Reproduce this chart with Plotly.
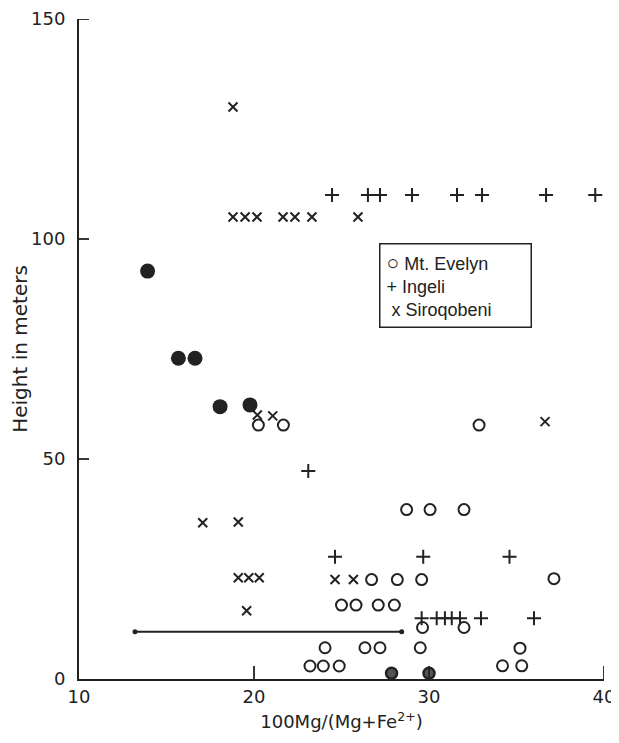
import plotly.graph_objects as go

# Mt. Evelyn (open circles)
evelyn_x = [20.25, 21.68, 32.86, 28.72, 30.06, 32.0, 26.72, 28.19, 29.58, 37.14,
            25.0, 25.83, 27.1, 28.02, 29.63, 32.0, 24.06, 26.34, 27.2, 29.5, 35.2,
            23.2, 23.96, 24.87, 34.2, 35.3]
evelyn_h = [57.7, 57.7, 57.7, 38.5, 38.5, 38.5, 22.6, 22.6, 22.6, 22.8,
            16.8, 16.8, 16.8, 16.8, 11.7, 11.7, 7.1, 7.1, 7.1, 7.1, 7.0,
            2.95, 2.95, 2.95, 3.0, 3.0]
# Mt. Evelyn points sitting on the axis (dark-filled circles)
evelyn_axis_x = [27.86, 30.0]
evelyn_axis_h = [1.3, 1.3]

# Ingeli (+)
ingeli_x = [24.46, 26.51, 27.2, 29.03, 31.6, 33.03, 36.69, 39.5,
            23.1, 24.63, 29.67, 34.6,
            29.58, 30.44, 30.91, 31.3, 31.77, 32.97, 36.0]
ingeli_h = [110, 110, 110, 110, 110, 110, 110, 110,
            47.3, 27.8, 27.8, 27.8,
            13.8, 13.8, 13.8, 13.8, 13.8, 13.8, 13.8]

# Siroqobeni (x)
siro_x = [18.8, 18.8, 19.49, 20.17, 21.66, 22.34, 23.31, 25.94,
          20.19, 21.07, 36.63, 17.07, 19.1, 19.1, 19.7, 20.3,
          24.63, 25.68, 19.58]
siro_h = [130, 105, 105, 105, 105, 105, 105, 105,
          60, 59.8, 58.5, 35.5, 35.7, 23, 23, 23,
          22.6, 22.6, 15.5]

# Unlabelled filled circles
filled_x = [13.92, 15.68, 16.63, 18.06, 19.77]
filled_h = [92.7, 72.9, 72.9, 61.9, 62.3]

# Horizontal range bar
bar_x = [13.2, 28.44]
bar_h = [10.75, 10.75]

x_ticks = [10, 20, 30, 40]
y_ticks = [0, 50, 100, 150]

ink = "#222222"
fig = go.Figure()
fig.add_trace(go.Scatter(x=bar_x, y=bar_h, mode="lines+markers",
                         line=dict(color=ink, width=2),
                         marker=dict(size=5, color=ink), showlegend=False))
fig.add_trace(go.Scatter(x=filled_x, y=filled_h, mode="markers",
                         marker=dict(symbol="circle", size=15, color=ink),
                         showlegend=False))
fig.add_trace(go.Scatter(x=evelyn_x, y=evelyn_h, mode="markers", name="Mt. Evelyn",
                         marker=dict(symbol="circle-open", size=11, color=ink,
                                     line=dict(color=ink, width=2)),
                         showlegend=False))
fig.add_trace(go.Scatter(x=evelyn_axis_x, y=evelyn_axis_h, mode="markers",
                         marker=dict(symbol="circle", size=11, color="#555555",
                                     line=dict(color=ink, width=2.5)),
                         showlegend=False, cliponaxis=False))
fig.add_trace(go.Scatter(x=ingeli_x, y=ingeli_h, mode="markers", name="Ingeli",
                         marker=dict(symbol="cross-thin-open", size=10, color=ink,
                                     line=dict(color=ink, width=2)),
                         showlegend=False))
fig.add_trace(go.Scatter(x=siro_x, y=siro_h, mode="markers", name="Siroqobeni",
                         marker=dict(symbol="x-thin-open", size=9, color=ink,
                                     line=dict(color=ink, width=2)),
                         showlegend=False))

# inner tick marks (drawn as shapes at the tick values)
shapes = []
for v in y_ticks[1:]:
    shapes.append(dict(type="line", xref="paper", yref="y", x0=0, x1=10 / 525,
                       y0=v, y1=v, line=dict(color=ink, width=1.8)))
for v in x_ticks[1:]:
    shapes.append(dict(type="line", xref="x", yref="paper", x0=v, x1=v,
                       y0=0, y1=13 / 660, line=dict(color=ink, width=1.8)))

font_family = "DejaVu Sans"
fig.update_layout(
    width=611, height=735,
    margin=dict(l=71, r=15, t=11, b=64),
    paper_bgcolor="white", plot_bgcolor="white",
    font=dict(family=font_family, color=ink, size=16),
    shapes=shapes,
    xaxis=dict(range=[10, 40], tickvals=x_ticks, ticktext=[str(v) for v in x_ticks],
               showgrid=False, zeroline=False, showline=True, linecolor=ink,
               linewidth=2, ticks="", automargin=False,
               tickfont=dict(size=18),
               title=dict(text="100Mg/(Mg+Fe<sup>2+</sup>)", font=dict(size=18), standoff=10)),
    yaxis=dict(range=[0, 150], tickvals=y_ticks, ticktext=[str(v) for v in y_ticks],
               showgrid=False, zeroline=False, showline=True, linecolor=ink,
               linewidth=2, ticks="", automargin=False,
               tickfont=dict(size=18), ticklabelstandoff=8,
               title=dict(text="Height in meters", font=dict(size=20), standoff=0)),
    annotations=[dict(
        xref="paper", yref="paper", x=(379 - 79) / 525, y=(679 - 243) / 660,
        xanchor="left", yanchor="top", align="left", showarrow=False,
        text="<span style='font-size:21px'>○</span> Mt. Evelyn<br>+ Ingeli<br> x Siroqobeni",
        font=dict(size=18, color=ink, family="Liberation Sans"),
        width=138, bordercolor=ink, borderwidth=1.5, borderpad=6, bgcolor="white",
    )],
)

fig.write_html("out.html")
